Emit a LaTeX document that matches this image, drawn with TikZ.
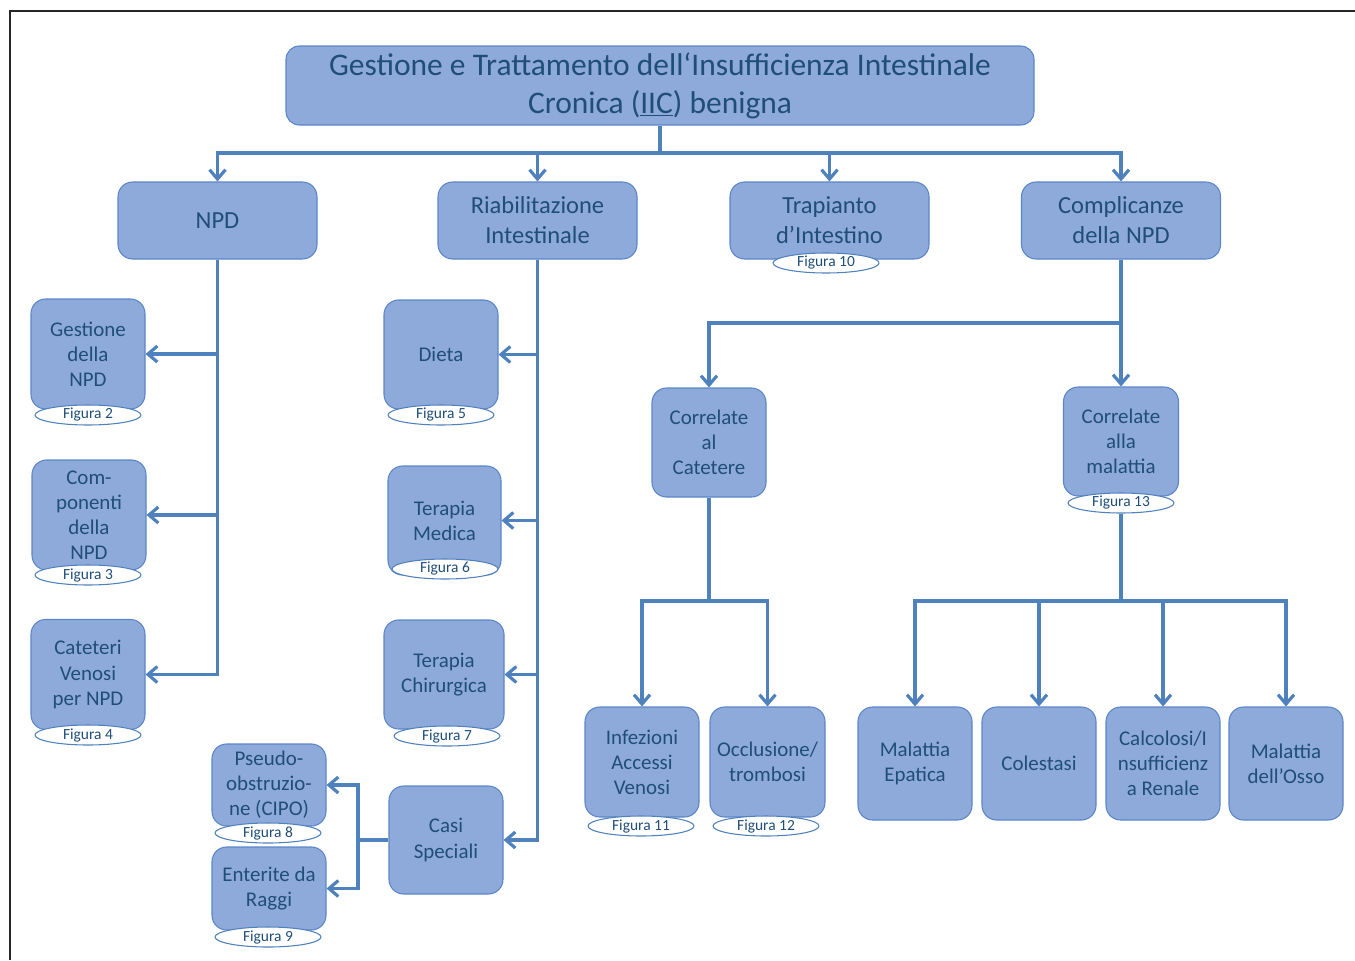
\documentclass[tikz,border=0pt]{standalone}
\usepackage{fontspec}
\setmainfont{Carlito}
\usetikzlibrary{arrows.meta,shapes.geometric}
\definecolor{boxfill}{HTML}{8EAADB}
\definecolor{boxline}{HTML}{5A86C8}
\definecolor{conn}{HTML}{4F81BD}
\definecolor{txt}{HTML}{1F4E79}
\begin{document}
\begin{tikzpicture}[x=0.75pt,y=-0.75pt,
  box/.style={draw=boxline,line width=0.8pt,fill=boxfill,rounded corners=11pt,
    text=txt,align=center,inner sep=0pt,font=\fontsize{15.7}{18.8}\selectfont},
  sz/.style 2 args={minimum width=#1*0.75pt,minimum height=#2*0.75pt},
  topbox/.style={box,sz={199}{77},font=\fontsize{18.4}{22.5}\selectfont},
  leaf/.style={box,sz={114}{110}},
  fig/.style={ellipse,draw=conn,line width=0.8pt,fill=white,inner sep=0pt,
    sz={106}{20},text=txt,font=\fontsize{11.6}{13}\selectfont},
  ln/.style={draw=conn,line width=2.4pt},
  arr/.style={ln,-{Straight Barb[length=7pt,width=12pt]}}]
\useasboundingbox (0,0) rectangle (1355,960);
% page frame
\draw[line width=1.1pt,black!85] (10,960) -- (10,11) -- (1355,11);

% title
\node[box,sz={748}{79},rounded corners=10pt,font=\fontsize{23.6}{28.5}\selectfont] (title) at (660,85.5)
  {Gestione e Trattamento dell‘Insufficienza Intestinale\\Cronica (\underline{IIC}) benigna};

% first level
\node[topbox] (npd)  at (217.5,220.5) {NPD};
\node[topbox] (riab) at (537.5,220.5) {Riabilitazione\\Intestinale};
\node[topbox] (trap) at (829.5,220.5) {Trapianto\\d’Intestino};
\node[topbox] (comp) at (1121,220.5) {Complicanze\\della NPD};

% NPD branch
\node[leaf] (gest) at (88,354) {Gestione\\della\\NPD};
\node[leaf] (compo) at (89,515) {Com-\\ponenti\\della\\NPD};
\node[leaf] (cat) at (88,674.5) {Cateteri\\Venosi\\per NPD};

% rehabilitation branch
\node[leaf,sz={114}{109}] (dieta) at (441,354.5) {Dieta};
\node[leaf,sz={113}{109}] (tmed) at (444.5,520.5) {Terapia\\Medica};
\node[leaf,sz={120}{109}] (tchir) at (444,674.5) {Terapia\\Chirurgica};
\node[leaf,sz={114}{108}] (casi) at (446,840) {Casi\\Speciali};
\node[leaf,sz={114}{82}] (pseudo) at (269,785) {Pseudo-\\obstruzio-\\ne (CIPO)};
\node[leaf,sz={114}{83}] (ent) at (269,888.5) {Enterite da\\Raggi};

% complications
\node[leaf,sz={114}{109}] (ccat) at (709,442.5) {Correlate\\al\\Catetere};
\node[leaf,sz={115}{109}] (cmal) at (1121,441.5) {Correlate\\alla\\malattia};
\node[leaf] (inf) at (642,762) {Infezioni\\Accessi\\Venosi};
\node[leaf,sz={115}{110}] (occl) at (767.5,762) {Occlusione/\\trombosi};
\node[leaf,sz={114}{113}] (epat) at (915,763.5) {Malattia\\Epatica};
\node[leaf,sz={114}{113}] (col) at (1039,763.5) {Colestasi};
\node[leaf,sz={114}{113}] (calc) at (1163,763.5) {Calcolosi/I\\nsufficienz\\a Renale};
\node[leaf,sz={114}{113}] (osso) at (1286,763.5) {Malattia\\dell’Osso};

% junction points
\coordinate (b0) at (660,153);
\coordinate (cj) at (1121,323);
\coordinate (cs) at (358,840);
\coordinate (kj) at (709,601);
\coordinate (mj) at (1121,601);

% connectors
\draw[ln] (title.south) -- (b0);
\foreach \t in {npd,riab,trap,comp} \draw[arr] (b0) -| (\t.north);
\foreach \t in {gest,compo,cat} \draw[arr] (npd.south) |- (\t.east);
\foreach \t in {dieta,tmed,tchir,casi} \draw[arr] (riab.south) |- (\t.east);
\draw[ln] (casi.west) -- (cs);
\foreach \t in {pseudo,ent} \draw[arr] (cs) |- (\t.east);
\draw[ln] (comp.south) -- (cj);
\draw[arr] (cj) -| (ccat.north);
\draw[arr] (cj) -- (cmal.north);
\draw[ln] (ccat.south) -- (kj);
\foreach \t in {inf,occl} \draw[arr] (kj) -| (\t.north);

% figure labels
\node[fig] (f2) at (88,415) {Figura 2};
\node[fig] (f3) at (88,575) {Figura 3};
\node[fig] (f4) at (88,735) {Figura 4};
\node[fig] (f5) at (441,415) {Figura 5};
\node[fig] (f6) at (445,569) {Figura 6};
\node[fig] (f7) at (447,736) {Figura 7};
\node[fig] (f8) at (268,833) {Figura 8};
\node[fig] (f9) at (268,937) {Figura 9};
\node[fig] (f10) at (826,263) {Figura 10};
\node[fig] (f11) at (641,826) {Figura 11};
\node[fig] (f12) at (766,826) {Figura 12};
\node[fig] (f13) at (1121,503) {Figura 13};

\draw[ln] (f13.south) -- (mj);
\foreach \t in {epat,col,calc,osso} \draw[arr] (mj) -| (\t.north);
\end{tikzpicture}
\end{document}
